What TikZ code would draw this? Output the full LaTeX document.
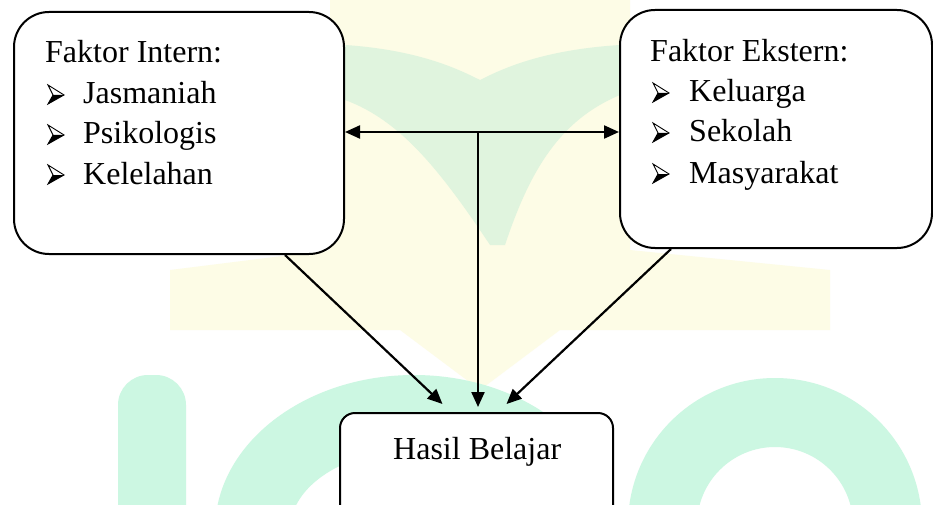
\documentclass[tikz,border=0pt]{standalone}
\usepackage{fontspec}
\setmainfont{Liberation Serif}
\usetikzlibrary{arrows.meta,calc}
\definecolor{wmyellow}{RGB}{253,252,230}
\definecolor{wmgreen}{RGB}{224,244,222}
\definecolor{wmmint}{RGB}{204,247,226}
\begin{document}
\begin{tikzpicture}[x=1pt,y=-1pt,
  box/.style={draw=black, line width=2pt, fill=white, rounded corners=#1, inner sep=0pt},
  box/.default=35pt,
  txt/.style={anchor=base west, inner sep=0pt, font=\fontsize{32}{38}\selectfont},
  tip/.style={},
  arr/.style={line width=2.2pt, -{Triangle[length=15pt,width=13pt]}},
  darr/.style={line width=2.2pt, {Triangle[length=15pt,width=13pt]}-{Triangle[length=15pt,width=13pt]}},
  bul/.pic={
    \draw[line width=0.9pt, line join=miter, fill=white] (0,0) -- (16,10) -- (0,19) -- (5,10) -- cycle;
    \fill (5,10) -- (16,10) -- (0,19) -- cycle;
  }
]
\useasboundingbox (0,0) rectangle (933,505);
\fill[white] (0,0) rectangle (933,505);
\begin{scope}
\clip (0,0) rectangle (933,505);
% watermark
\fill[wmyellow] (330,0) -- (630,0) -- (630,250) -- (830,270) -- (830,330) -- (560,330) -- (480,390) -- (400,330) -- (170,330) -- (170,270) -- (330,250) -- cycle;
\fill[wmgreen] (345,45) .. controls (420,50) and (460,70) .. (480,80) .. controls (500,70) and (540,50) .. (620,45) -- (620,95) .. controls (560,120) and (530,170) .. (505,245) -- (490,245) .. controls (440,170) and (400,120) .. (345,100) -- cycle;
\fill[wmmint, rounded corners=30pt] (118,375) rectangle (186,600);
\fill[wmmint, even odd rule] (414,530) ellipse [x radius=199, y radius=155] (414,530) ellipse [x radius=124, y radius=80];
\fill[wmmint] (215,530) rectangle (290,600) (538,530) rectangle (613,600);
\fill[wmmint, even odd rule] (775,525) circle [radius=147] (775,525) circle [radius=78];

% boxes
\node[box, minimum width=330pt, minimum height=242pt] (intern) at (179,133) {};
\node[box, minimum width=312pt, minimum height=238pt] (extern) at (776,129) {};
\node[box=15pt, minimum width=273pt, minimum height=120pt] (hasil) at (476.5,473) {};
\end{scope}

% texts
\node[txt] (t1) at (45,63) {Faktor Intern:};
\pic at (48,85) {bul}; \node[txt] (t1a) at (83,104) {Jasmaniah};
\pic at (48,125) {bul}; \node[txt] (t1b) at (83,144) {Psikologis};
\pic at (48,165) {bul}; \node[txt] (t1c) at (83,184) {Kelelahan};

\node[txt] (t2) at (650,62) {Faktor Ekstern:};
\pic at (653,83) {bul}; \node[txt] (t2a) at (689,102) {Keluarga};
\pic at (653,123) {bul}; \node[txt] (t2b) at (689,142) {Sekolah};
\pic at (653,164) {bul}; \node[txt] (t2c) at (689,183) {Masyarakat};

\node[txt] (t3) at (393,459) {Hasil Belajar};

% connectors
\coordinate (hub) at (478,132);
\draw[darr] (intern.east |- hub) -- (extern.west |- hub);
\draw[arr, shorten >=5pt] (hub) -- (hub |- hasil.north);
\draw[arr] ([xshift=106pt]intern.south) -- ([xshift=-34pt,yshift=8pt]hasil.north);
\draw[arr] ([xshift=-105pt]extern.south) -- ([xshift=30pt,yshift=8pt]hasil.north);
\end{tikzpicture}
\end{document}
